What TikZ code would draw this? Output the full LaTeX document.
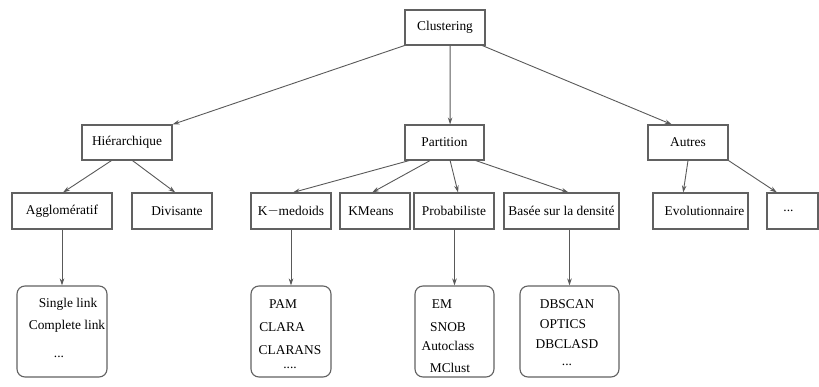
\documentclass[tikz,border=0pt]{standalone}
\usepackage{fontspec}
\setmainfont{Liberation Serif}
\usetikzlibrary{calc,arrows.meta}

\tikzset{
  box/.style={draw=black!62, line width=1.1pt, inner sep=0pt, minimum height=35pt,
              font=\fontsize{13.4}{15}\selectfont},
  listbox/.style={draw=black!62, line width=1.1pt, rounded corners=8pt, inner sep=0pt},
  item/.style={inner sep=0pt, font=\fontsize{13.4}{15}\selectfont},
  arr/.style={draw=black!65, line width=0.9pt, -{Stealth[length=7pt,width=4.5pt]}}
}

\begin{document}
\begin{tikzpicture}[x=1pt, y=-1pt]
  \useasboundingbox (0,0) rectangle (819,387);

  % root
  \node[box, minimum width=80pt] (clus) at (445,27.5) {Clustering};

  % second level
  \node[box, minimum width=90pt] (hier) at (127,142.5) {Hiérarchique};
  \node[box, minimum width=79pt] (part) at (444.5,142.5) {Partition};
  \node[box, minimum width=80pt] (autr) at (688,142.5) {Autres};

  % third level
  \node[box, minimum width=100pt, minimum height=36pt] (aggl) at (62,211) {Aggloméra\-tif};
  \node[box, minimum width=80pt,  minimum height=36pt] (divi) at (172,211) {\hspace*{10pt}Divisante};
  \node[box, minimum width=80pt,  minimum height=36pt] (kmed) at (291,211) {K\raisebox{0.5pt}{$-$}medoids};
  \node[box, minimum width=70pt,  minimum height=36pt] (kmea) at (375,211) {KMeans\hspace*{8pt}};
  \node[box, minimum width=80pt,  minimum height=36pt] (prob) at (454,211) {Probabiliste};
  \node[box, minimum width=115pt, minimum height=36pt] (dens) at (561.5,211) {Basée sur la densité};
  \node[box, minimum width=95pt,  minimum height=36pt] (evol) at (700.5,211) {\hspace*{8pt}Evolutionnaire};
  \node[box, minimum width=51pt,  minimum height=36pt] (etc)  at (792.5,211) {...\hspace*{8pt}};

  % lists of methods
  \node[listbox, minimum width=90pt, minimum height=91pt] (l1) at (62,331.5) {};
  \node[listbox, minimum width=80pt, minimum height=91pt] (l2) at (291,331.5) {};
  \node[listbox, minimum width=79pt, minimum height=91pt] (l3) at (454.5,331.5) {};
  \node[listbox, minimum width=99pt, minimum height=91pt] (l4) at (569.5,331.5) {};

  \node[item] (l1a) at (68,304) {Single link};
  \node[item] (l1b) at (67,326) {Complete link};
  \node[item] (l1c) at (59,357) {...};

  \node[item] (l2a) at (283,304) {PAM};
  \node[item] (l2b) at (282,327) {CLARA};
  \node[item] (l2c) at (290,350) {CLARANS};
  \node[item] (l2d) at (290,368) {....};

  \node[item] (l3a) at (442,304) {EM};
  \node[item] (l3b) at (448,327) {SNOB};
  \node[item] (l3c) at (448,346) {Autoclass};
  \node[item] (l3d) at (450,368) {MClust};

  \node[item] (l4a) at (567,304) {DBSCAN};
  \node[item] (l4b) at (563,324) {OPTICS};
  \node[item] (l4c) at (567,344) {DBCLASD};
  \node[item] (l4d) at (567,365) {...};

  % connectors from the root
  \draw[arr] (clus.south west) -- (hier.north east);
  \draw[arr] ($(clus.south west)!0.5625!(clus.south east)$) -- ($(part.north west)!0.57!(part.north east)$);
  \draw[arr] ($(clus.south west)!0.96!(clus.south east)$) -- ($(autr.north west)!0.3!(autr.north east)$);

  % connectors from the second level
  \draw[arr] ($(hier.south west)!0.33!(hier.south east)$) -- ($(aggl.north west)!0.51!(aggl.north east)$);
  \draw[arr] ($(hier.south west)!0.56!(hier.south east)$) -- ($(divi.north west)!0.54!(divi.north east)$);

  \draw[arr] ($(part.south west)!0.06!(part.south east)$) -- ($(kmed.north west)!0.525!(kmed.north east)$);
  \draw[arr] ($(part.south west)!0.32!(part.south east)$) -- ($(kmea.north west)!0.46!(kmea.north east)$);
  \draw[arr] ($(part.south west)!0.57!(part.south east)$) -- ($(prob.north west)!0.55!(prob.north east)$);
  \draw[arr] ($(part.south west)!0.89!(part.south east)$) -- ($(dens.north west)!0.56!(dens.north east)$);

  \draw[arr] (autr.south) -- ($(evol.north west)!0.32!(evol.north east)$);
  \draw[arr] (autr.south east) -- ($(etc.north west)!0.2!(etc.north east)$);

  % connectors to the lists
  \draw[arr] (aggl.south) -- (l1.north);
  \draw[arr] (kmed.south) -- (l2.north);
  \draw[arr] (prob.south -| l3.north) -- (l3.north);
  \draw[arr] (dens.south -| l4.north) -- (l4.north);
\end{tikzpicture}
\end{document}
